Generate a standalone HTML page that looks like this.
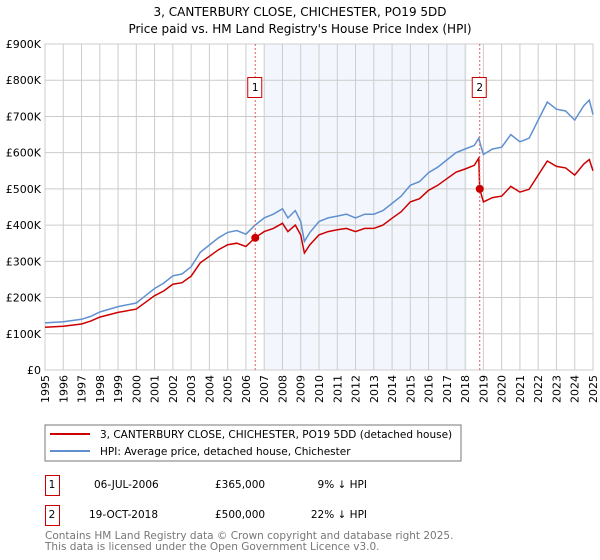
<!DOCTYPE html>
<html><head><meta charset="utf-8"><style>
body{margin:0;background:#fff;font-family:"DejaVu Sans","Liberation Sans",sans-serif;}
svg{display:block}
</style></head><body>
<svg id="c" width="600" height="560">
<text x="300" y="16" text-anchor="middle" font-size="12">3, CANTERBURY CLOSE, CHICHESTER, PO19 5DD</text>
<text x="300" y="33" text-anchor="middle" font-size="12">Price paid vs. HM Land Registry's House Price Index (HPI)</text>
<rect x="45" y="44" width="548" height="326" fill="#fff" stroke="#ccc"/>
<g id="shade"></g><g id="grid"></g><g id="lines"></g><g id="marks"></g><g id="axes"></g>
<rect x="45" y="425" width="416" height="36" fill="#fff" stroke="#777"/>
<line x1="50" y1="434" x2="90" y2="434" stroke="#cc0000" stroke-width="2"/>
<text x="100" y="438" font-size="10.5">3, CANTERBURY CLOSE, CHICHESTER, PO19 5DD (detached house)</text>
<line x1="50" y1="451" x2="90" y2="451" stroke="#6090d0" stroke-width="2"/>
<text x="100" y="455" font-size="10.5">HPI: Average price, detached house, Chichester</text>
<g font-size="10.5">
<rect x="45.5" y="475.5" width="14" height="20" fill="none" stroke="#cc0000"/>
<text x="52" y="488" text-anchor="middle">1</text>
<text x="94" y="488">06-JUL-2006</text><text x="215" y="488">£365,000</text><text x="367" y="488" text-anchor="end">9% ↓ HPI</text>
<rect x="45.5" y="505.5" width="14" height="20" fill="none" stroke="#cc0000"/>
<text x="52" y="518" text-anchor="middle">2</text>
<text x="89" y="518">19-OCT-2018</text><text x="215" y="518">£500,000</text><text x="367" y="518" text-anchor="end">22% ↓ HPI</text>
</g>
<text x="45" y="539" font-size="10.5" fill="#777">Contains HM Land Registry data © Crown copyright and database right 2025.</text>
<text x="45" y="550" font-size="10.5" fill="#777">This data is licensed under the Open Government Licence v3.0.</text>
</svg>
<script>
const dates=[1995,1996,1997,1997.5,1998,1999,2000,2000.5,2001,2001.5,2002,2002.5,2003,2003.5,2004,2004.5,2005,2005.5,2006,2006.5,2007,2007.5,2008,2008.3,2008.7,2009,2009.2,2009.5,2010,2010.5,2011,2011.5,2012,2012.5,2013,2013.5,2014,2014.5,2015,2015.5,2016,2016.5,2017,2017.5,2018,2018.5,2018.75,2018.8,2019,2019.5,2020,2020.5,2021,2021.5,2022,2022.5,2023,2023.5,2024,2024.5,2024.8,2025];
const hpi=[130,133,140,148,160,175,185,205,225,240,260,265,285,325,345,365,380,385,375,400,420,430,445,420,440,410,355,380,410,420,425,430,420,430,430,440,460,480,510,520,545,560,580,600,610,620,640,630,595,610,615,650,630,640,690,740,720,715,690,730,745,705];
const paid=[118,121,127,135,146,159,168,187,205,218,237,241,259,296,314,332,346,350,341,365,382,391,405,382,400,373,323,346,373,382,387,391,382,391,391,400,419,437,464,473,496,510,528,546,555,565,585,500,464,476,480,507,491,499,538,577,562,558,538,569,581,550];
const saleDates=[2006.51,2018.8];
const salePrices=[365,500];
const saleLabels=["1","2"];
const yTicks=[0,100,200,300,400,500,600,700,800,900];
const yTickLabels=["£0","£100K","£200K","£300K","£400K","£500K","£600K","£700K","£800K","£900K"];
const xYears=[1995,1996,1997,1998,1999,2000,2001,2002,2003,2004,2005,2006,2007,2008,2009,2010,2011,2012,2013,2014,2015,2016,2017,2018,2019,2020,2021,2022,2023,2024,2025];
const NS="http://www.w3.org/2000/svg";
const X=t=>45+(t-1995)*548/30, Y=v=>370-v*326/900;
function mk(p,tag,a){const e=document.createElementNS(NS,tag);for(const k in a)e.setAttribute(k,a[k]);document.getElementById(p).appendChild(e);return e;}
let s=mk('shade','rect',{x:X(2007),y:44,width:X(2018.1)-X(2007),height:326,fill:'#eef3fc',opacity:0.7});


yTicks.forEach((v,i)=>{
 let l=mk('grid','line',{x1:45,x2:593,y1:Y(v),y2:Y(v),stroke:'#ccc'});
 
 
 let t=mk('axes','text',{x:41,y:Y(v)+4,'text-anchor':'end','font-size':11});
 
 
 t.textContent=yTickLabels[i];
});
xYears.forEach(yr=>{
 let l=mk('grid','line',{x1:X(yr),x2:X(yr),y1:44,y2:370,stroke:'#ccc'});
 
 
 let t=mk('axes','text',{x:0,y:0,'text-anchor':'end','font-size':11,transform:`translate(${X(yr)+4},375) rotate(-90)`});
 
 
 t.textContent=yr;
});
function path(vals,col,name){
 let d=vals.map((v,i)=>(i?'L':'M')+X(dates[i]).toFixed(1)+','+Y(v).toFixed(1)).join('');
 let p=mk('lines','path',{d:d,fill:'none',stroke:col,'stroke-width':1.5});
 
 
}
path(hpi,'#6090d0','hpi-line');
path(paid,'#cc0000','price-paid-line');
saleDates.forEach((d,i)=>{
 let l=mk('marks','line',{x1:X(d),x2:X(d),y1:44,y2:370,stroke:'#e06060','stroke-dasharray':'2,2'});
 
 
 let c=mk('marks','circle',{cx:X(d),cy:Y(salePrices[i]),r:4,fill:'#cc0000'});
 
 
 let r=mk('marks','rect',{x:X(d)-7.5,y:77.5,width:14,height:20,fill:'#fff',stroke:'#cc0000'});
 
 
 let t=mk('marks','text',{x:X(d),y:91,'text-anchor':'middle','font-size':10.5});
 
 
 t.textContent=saleLabels[i];
});
</script>
</body></html>
